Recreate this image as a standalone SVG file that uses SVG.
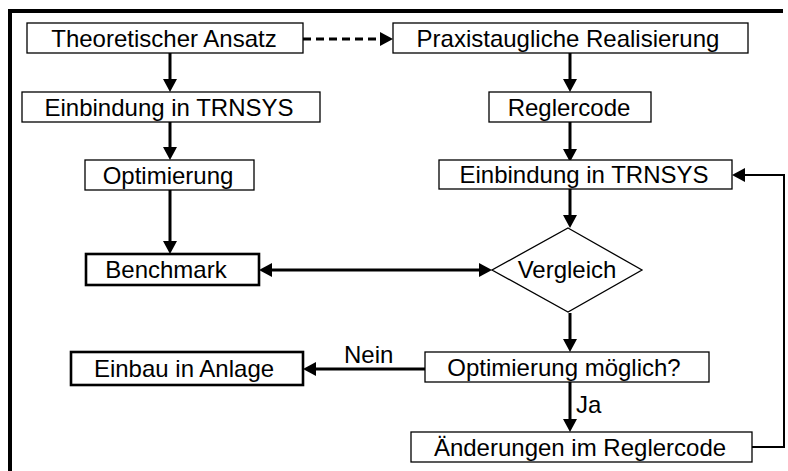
<svg xmlns="http://www.w3.org/2000/svg" width="788" height="471" viewBox="0 0 788 471">
<style>
.box{fill:#fff;stroke:#000;stroke-width:1.3}
.bold{fill:#fff;stroke:#000;stroke-width:2.6}
text{font-family:"Liberation Sans",Arial,sans-serif;font-size:24px;fill:#000}
.c{text-anchor:middle}
.ln{fill:none;stroke:#000;stroke-width:3}
.thin{fill:none;stroke:#000;stroke-width:2}
</style>
<defs>
<marker id="ah" markerUnits="userSpaceOnUse" markerWidth="14" markerHeight="14" refX="7" refY="7" orient="auto-start-reverse" viewBox="0 0 14 14">
<path d="M0,0 L13,7 L0,14 z" fill="#000"/>
</marker>
</defs>
<rect width="788" height="471" fill="#fff"/>
<path d="M10,471 V11 H783" fill="none" stroke="#000" stroke-width="4"/>
<g id="connectors">
<line class="ln" x1="303" y1="39" x2="387" y2="39" stroke-dasharray="8,5" marker-end="url(#ah)"/>
<line class="ln" x1="170" y1="53" x2="170" y2="86" marker-end="url(#ah)"/>
<line class="ln" x1="170" y1="122" x2="170" y2="154" marker-end="url(#ah)"/>
<line class="ln" x1="170" y1="190" x2="170" y2="248" marker-end="url(#ah)"/>
<line class="ln" x1="570" y1="53" x2="570" y2="86" marker-end="url(#ah)"/>
<line class="ln" x1="570" y1="122" x2="570" y2="156" marker-end="url(#ah)"/>
<line class="ln" x1="570" y1="189" x2="570" y2="222" marker-end="url(#ah)"/>
<line class="ln" x1="265" y1="270" x2="486" y2="270" marker-start="url(#ah)" marker-end="url(#ah)"/>
<line class="ln" x1="570" y1="313" x2="570" y2="346" marker-end="url(#ah)"/>
<line class="ln" x1="425" y1="369" x2="309" y2="369" marker-end="url(#ah)"/>
<line class="ln" x1="570" y1="382" x2="570" y2="426" marker-end="url(#ah)"/>
<path class="thin" d="M752,447 H784 V175 H738" marker-end="url(#ah)"/>
<text x="344" y="363">Nein</text>
<text x="576" y="413">Ja</text>
</g>
<g id="theor"><rect class="box" x="27" y="23" width="276" height="30"/><text class="c" x="164" y="47">Theoretischer Ansatz</text></g>
<g id="praxis"><rect class="box" x="393" y="23" width="355" height="30"/><text class="c" x="568" y="47">Praxistaugliche Realisierung</text></g>
<g id="einb1"><rect class="box" x="22" y="92" width="298" height="30"/><text class="c" x="169" y="116">Einbindung in TRNSYS</text></g>
<g id="regler"><rect class="box" x="489" y="92" width="162" height="30"/><text class="c" x="569" y="116">Reglercode</text></g>
<g id="opt"><rect class="box" x="85" y="160" width="169" height="30"/><text class="c" x="168" y="184">Optimierung</text></g>
<g id="einb2"><rect class="box" x="439" y="160" width="293" height="29"/><text class="c" x="584" y="183">Einbindung in TRNSYS</text></g>
<g id="bench"><rect class="bold" x="86" y="254" width="173" height="31"/><text class="c" x="166" y="278">Benchmark</text></g>
<g id="vergleich"><polygon points="568,228 642,270 568,312 492,270" fill="#fff" stroke="#000" stroke-width="1.3"/><text class="c" x="567" y="278">Vergleich</text></g>
<g id="einbau"><rect class="bold" x="71" y="352" width="232" height="33"/><text class="c" x="184" y="377">Einbau in Anlage</text></g>
<g id="optm"><rect class="box" x="425" y="352" width="284" height="30"/><text class="c" x="564" y="376">Optimierung möglich?</text></g>
<g id="aend"><rect class="box" x="411" y="432" width="341" height="30"/><text class="c" x="580" y="456">Änderungen im Reglercode</text></g>
</svg>
